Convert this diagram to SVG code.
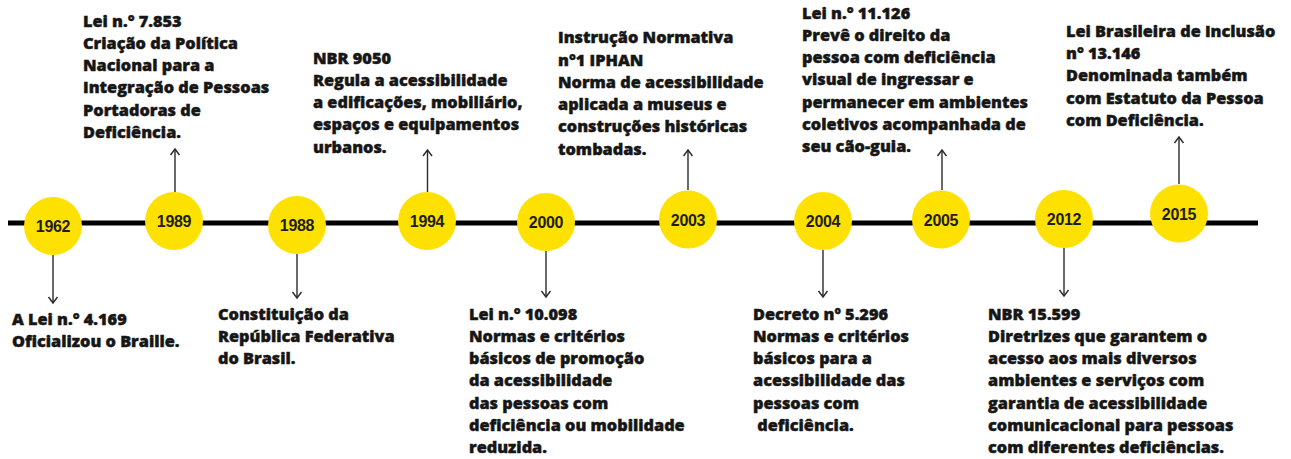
<svg xmlns="http://www.w3.org/2000/svg" width="1291" height="459" viewBox="0 0 1291 459">
<style>
.bg{fill:#ffffff}
.yr{fill:#FFE100}
.yt{font-family:"Liberation Sans",Arial,sans-serif;font-weight:700;font-size:16px;fill:#1e1e1e;text-anchor:middle;letter-spacing:-0.3px}
.tx{font-family:"Open Sans","Noto Sans",sans-serif;font-weight:800;font-size:16.3px;fill:#161616;stroke:#161616;stroke-width:0.45px}
.cn{stroke:#2a2a2a;stroke-width:1.4;fill:none}
.axis{stroke:#000;stroke-width:5}
</style>
<defs>
<marker id="ah" markerUnits="userSpaceOnUse" markerWidth="10" markerHeight="12" refX="7" refY="6" orient="auto">
<path d="M1,1.5 L7,6 L1,10.5" fill="none" stroke="#2a2a2a" stroke-width="1.4"/>
</marker>
</defs>
<rect class="bg" x="0" y="0" width="1291" height="459"/>
<line class="axis" x1="8" y1="223" x2="1258" y2="223"/>
<g id="connectors">
<line class="cn" x1="53" y1="255" x2="53" y2="303" marker-end="url(#ah)"/>
<line class="cn" x1="175" y1="192" x2="175" y2="149" marker-end="url(#ah)"/>
<line class="cn" x1="297" y1="254" x2="297" y2="298" marker-end="url(#ah)"/>
<line class="cn" x1="427.5" y1="192" x2="427.5" y2="150" marker-end="url(#ah)"/>
<line class="cn" x1="546" y1="251" x2="546" y2="297" marker-end="url(#ah)"/>
<line class="cn" x1="688" y1="190" x2="688" y2="150" marker-end="url(#ah)"/>
<line class="cn" x1="823" y1="250" x2="823" y2="297" marker-end="url(#ah)"/>
<line class="cn" x1="942" y1="190" x2="942" y2="150" marker-end="url(#ah)"/>
<line class="cn" x1="1064" y1="248" x2="1064" y2="296" marker-end="url(#ah)"/>
<line class="cn" x1="1179" y1="184" x2="1179" y2="137" marker-end="url(#ah)"/>
</g>
<g id="n1962">
<circle class="yr" cx="53" cy="226" r="29"/>
<text class="yt" x="53" y="232">1962</text>
<text class="tx" x="12" y="324.5">A Lei n.° 4.169</text>
<text class="tx" x="12" y="346.8">Oficializou o Braille.</text>
</g>
<g id="n1989">
<circle class="yr" cx="174" cy="221" r="29"/>
<text class="yt" x="174" y="227">1989</text>
<text class="tx" x="83" y="26.5">Lei n.° 7.853</text>
<text class="tx" x="83" y="48.8">Criação da Política</text>
<text class="tx" x="83" y="71">Nacional para a</text>
<text class="tx" x="83" y="93.3">Integração de Pessoas</text>
<text class="tx" x="83" y="115.5">Portadoras de</text>
<text class="tx" x="83" y="137.8">Deficiência.</text>
</g>
<g id="n1988">
<circle class="yr" cx="297" cy="225" r="29"/>
<text class="yt" x="297" y="231">1988</text>
<text class="tx" x="218" y="319.5">Constituição da</text>
<text class="tx" x="218" y="341.8">República Federativa</text>
<text class="tx" x="218" y="364">do Brasil.</text>
</g>
<g id="n1994">
<circle class="yr" cx="427" cy="221" r="29"/>
<text class="yt" x="427" y="227">1994</text>
<text class="tx" x="313" y="63.5">NBR 9050</text>
<text class="tx" x="313" y="85.8">Regula a acessibilidade</text>
<text class="tx" x="313" y="108">a edificações, mobiliário,</text>
<text class="tx" x="313" y="130.3">espaços e equipamentos</text>
<text class="tx" x="313" y="152.5">urbanos.</text>
</g>
<g id="n2000">
<circle class="yr" cx="546" cy="222" r="29"/>
<text class="yt" x="546" y="228">2000</text>
<text class="tx" x="469" y="319.5">Lei n.° 10.098</text>
<text class="tx" x="469" y="341.8">Normas e critérios</text>
<text class="tx" x="469" y="364">básicos de promoção</text>
<text class="tx" x="469" y="386.3">da acessibilidade</text>
<text class="tx" x="469" y="408.5">das pessoas com</text>
<text class="tx" x="469" y="430.8">deficiência ou mobilidade</text>
<text class="tx" x="469" y="453">reduzida.</text>
</g>
<g id="n2003">
<circle class="yr" cx="688" cy="219.5" r="29"/>
<text class="yt" x="688" y="225.5">2003</text>
<text class="tx" x="558" y="43.3">Instrução Normativa</text>
<text class="tx" x="558" y="65.5">n°1 IPHAN</text>
<text class="tx" x="558" y="87.8">Norma de acessibilidade</text>
<text class="tx" x="558" y="110">aplicada a museus e</text>
<text class="tx" x="558" y="132.3">construções históricas</text>
<text class="tx" x="558" y="154.5">tombadas.</text>
</g>
<g id="n2004">
<circle class="yr" cx="823" cy="221" r="29"/>
<text class="yt" x="823" y="227">2004</text>
<text class="tx" x="753" y="319.5">Decreto nº 5.296</text>
<text class="tx" x="753" y="341.8">Normas e critérios</text>
<text class="tx" x="753" y="364">básicos para a</text>
<text class="tx" x="753" y="386.3">acessibilidade das</text>
<text class="tx" x="753" y="408.5">pessoas com</text>
<text class="tx" x="753" y="430.8" xml:space="preserve"> deficiência.</text>
</g>
<g id="n2005">
<circle class="yr" cx="941" cy="219.5" r="29"/>
<text class="yt" x="941" y="225.5">2005</text>
<text class="tx" x="802" y="18.5">Lei n.° 11.126</text>
<text class="tx" x="802" y="40.8">Prevê o direito da</text>
<text class="tx" x="802" y="63">pessoa com deficiência</text>
<text class="tx" x="802" y="85.3">visual de ingressar e</text>
<text class="tx" x="802" y="107.5">permanecer em ambientes</text>
<text class="tx" x="802" y="129.8">coletivos acompanhada de</text>
<text class="tx" x="802" y="152">seu cão-guia.</text>
</g>
<g id="n2012">
<circle class="yr" cx="1064" cy="219" r="29"/>
<text class="yt" x="1064" y="225">2012</text>
<text class="tx" x="988" y="319.5">NBR 15.599</text>
<text class="tx" x="988" y="341.8">Diretrizes que garantem o</text>
<text class="tx" x="988" y="364">acesso aos mais diversos</text>
<text class="tx" x="988" y="386.3">ambientes e serviços com</text>
<text class="tx" x="988" y="408.5">garantia de acessibilidade</text>
<text class="tx" x="988" y="430.8">comunicacional para pessoas</text>
<text class="tx" x="988" y="453">com diferentes deficiências.</text>
</g>
<g id="n2015">
<circle class="yr" cx="1179" cy="213.5" r="29"/>
<text class="yt" x="1179" y="219.5">2015</text>
<text class="tx" x="1066" y="36.7">Lei Brasileira de Inclusão</text>
<text class="tx" x="1066" y="59">n° 13.146</text>
<text class="tx" x="1066" y="81.3">Denominada também</text>
<text class="tx" x="1066" y="103.5">com Estatuto da Pessoa</text>
<text class="tx" x="1066" y="125.8">com Deficiência.</text>
</g>
</svg>
